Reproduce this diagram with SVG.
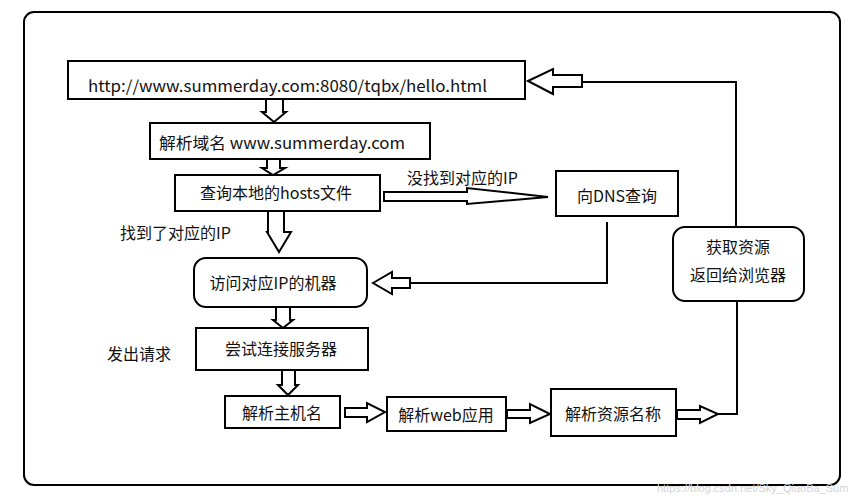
<svg xmlns="http://www.w3.org/2000/svg" width="861" height="500" viewBox="0 0 861 500">
<style>
.box{fill:#fff;stroke:#000;stroke-width:2}
.arr{fill:#fff;stroke:#000;stroke-width:2;stroke-linejoin:miter}
.ln{fill:none;stroke:#000;stroke-width:2}
text{font-family:"Noto Sans CJK SC","Noto Sans",sans-serif;font-size:16px;fill:#111;dominant-baseline:central}
.c{text-anchor:middle}
.wm{font-family:"Liberation Sans",sans-serif;font-size:11px;fill:#d4d4d4}
</style>
<rect x="0" y="0" width="861" height="500" fill="#fff"/>
<rect id="frame" x="24" y="12" width="816" height="473" rx="10" ry="10" fill="none" stroke="#000" stroke-width="2"/>
<g id="connectors">
<polygon class="arr" points="266,99 283,99 283,112 286,112 274,122 262,112 266,112"/>
<polygon class="arr" points="267,159 280,159 280,168 285,168 273,175 262,168 267,168"/>
<polygon class="arr" points="268,211 284,211 284,232 291,232 279,252 267,232 268,232"/>
<polygon class="arr" points="276,307 290,307 290,320 293,320 283,328 273,320 276,320"/>
<polygon class="arr" points="282,370 295,370 295,385 298,385 288,395 278,385 282,385"/>
<polygon class="arr" points="345,408 367,408 367,403 385,412 367,422 367,417 345,417"/>
<polygon class="arr" points="507,410 530,410 530,404 550,414 530,423 530,418 507,418"/>
<polygon class="arr" points="677,410 700,410 700,406 718,414 700,423 700,419 677,419"/>
<polyline class="ln" points="718,414 737,414 737,301"/>
<polygon class="arr" points="384,192 467,192 467,188 548,197 467,204 467,201 384,201"/>
<polyline class="ln" points="736,227 736,82 582,82"/>
<polygon class="arr" points="528,81 553,69 553,75 582,75 582,87 553,87 553,94"/>
<polyline class="ln" points="607,222 607,283 410,283"/>
<polygon class="arr" points="373,283 392,272 392,278 410,278 410,288 392,288 392,294"/>
</g>
<g id="url"><rect class="box" x="68" y="61" width="457" height="38"/><text x="88" y="85" textLength="399" lengthAdjust="spacingAndGlyphs">http://www.summerday.com:8080/tqbx/hello.html</text></g>
<g id="domain"><rect class="box" x="150" y="123" width="280" height="36"/><text x="159" y="142" textLength="246" lengthAdjust="spacingAndGlyphs">解析域名 www.summerday.com</text></g>
<g id="hosts"><rect class="box" x="175" y="175" width="205" height="36"/><text class="c" x="276" y="192">查询本地的hosts文件</text></g>
<text x="407" y="177">没找到对应的IP</text>
<g id="dns"><rect class="box" x="556" y="171" width="122" height="45"/><text class="c" x="617" y="195">向DNS查询</text></g>
<text x="120" y="232">找到了对应的IP</text>
<g id="visit"><rect class="box" x="194" y="258" width="173" height="49" rx="12" ry="12"/><text class="c" x="273" y="282">访问对应IP的机器</text></g>
<g id="connect"><rect class="box" x="196" y="328" width="172" height="42"/><text class="c" x="281" y="348">尝试连接服务器</text></g>
<text x="107" y="353">发出请求</text>
<g id="host"><rect class="box" x="225" y="396" width="115" height="32"/><text class="c" x="282" y="412">解析主机名</text></g>
<g id="web"><rect class="box" x="387" y="397" width="119" height="34"/><text class="c" x="446" y="414">解析web应用</text></g>
<g id="res"><rect class="box" x="551" y="389" width="125" height="47"/><text class="c" x="613" y="413">解析资源名称</text></g>
<g id="ret"><rect class="box" x="673" y="227" width="131" height="74" rx="12" ry="12"/><text class="c" x="738" y="246">获取资源</text><text class="c" x="738" y="274">返回给浏览器</text></g>
<text class="wm" x="657" y="488">https://blog.csdn.net/Sky_QiaoBa_Sum</text>
</svg>
